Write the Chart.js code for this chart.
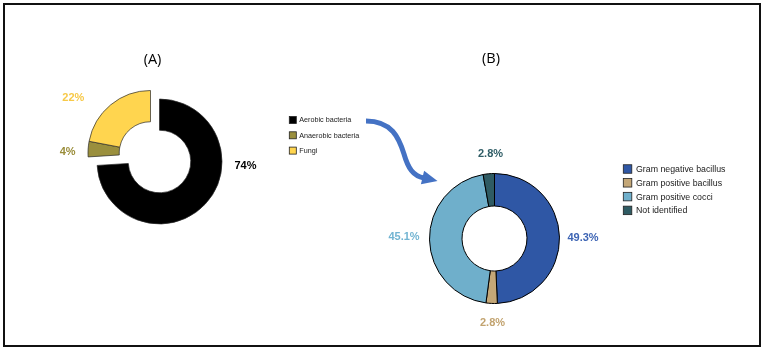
<!DOCTYPE html>
<html>
<head>
<meta charset="utf-8">
<script src="https://cdn.jsdelivr.net/npm/chart.js@4.4.1/dist/chart.umd.min.js"></script>
<style>
	html, body { margin: 0; padding: 0; background: #fff; }
	#wrap { position: relative; width: 766px; height: 353px; overflow: hidden; }
	#wrap canvas { position: absolute; left: 0; top: 0; }
	#frame { position: absolute; left: 3px; top: 3px; width: 758px; height: 344px; box-sizing: border-box; border: 2px solid #111; }
</style>
</head>
<body>
<div id="wrap">
	<canvas id="chartA" width="766" height="353"></canvas>
	<canvas id="chartB" width="766" height="353"></canvas>
	<div id="frame"></div>
</div>
<script>
const groupLabels = ['Aerobic bacteria', 'Anaerobic bacteria', 'Fungi'];
const groupValues = [74, 4, 22];
const groupColors = ['#000000', '#9a8f3d', '#ffd54f'];
const groupTextColors = ['#000000', '#9a8d3a', '#f7c948'];

const bacteriaLabels = ['Gram negative bacillus', 'Gram positive bacillus', 'Gram positive cocci', 'Not identified'];
const bacteriaValues = [49.3, 2.8, 45.1, 2.8];
const bacteriaColors = ['#2f57a5', '#c4a777', '#6fafcb', '#2f5b63'];
const bacteriaTextColors = ['#3d64b4', '#c2a36f', '#72b4d2', '#2f5d66'];

function drawArrow(ctx) {
	ctx.save();
	ctx.strokeStyle = '#4472c4';
	ctx.fillStyle = '#4472c4';
	ctx.lineWidth = 5;
	ctx.beginPath();
	ctx.moveTo(366, 121);
	ctx.bezierCurveTo(392, 121, 399, 138, 404, 154);
	ctx.bezierCurveTo(408, 168, 413, 176, 424, 178);
	ctx.stroke();
	ctx.beginPath();
	ctx.moveTo(437.5, 181);
	ctx.lineTo(424.1, 170.7);
	ctx.lineTo(420.9, 184.3);
	ctx.closePath();
	ctx.fill();
	ctx.restore();
}

// labels, legend and title for each ring, plus the exploded slices of (A)
const pieDecor = {
	id: 'pieDecor',
	afterDatasetUpdate(chart, args, opts) {
		(opts.shifted || []).forEach(i => {
			const el = args.meta.data[i];
			if (el) {
				el.x += opts.shift[0];
				el.y += opts.shift[1];
			}
		});
	},
	afterDraw(chart, args, opts) {
		const ctx = chart.ctx;
		const area = chart.chartArea;
		const cx = (area.left + area.right) / 2;
		const cy = (area.top + area.bottom) / 2;
		const ds = chart.data.datasets[0];
		ctx.save();
		ctx.textAlign = 'center';
		ctx.textBaseline = 'middle';

		ctx.font = '14.5px "Open Sans"';
		ctx.fillStyle = '#000';
		ctx.fillText(opts.title, opts.titlePos[0], opts.titlePos[1]);

		ctx.font = 'bold 11px "Liberation Sans", Arial';
		ds.data.forEach((v, i) => {
			ctx.fillStyle = opts.labelColors[i];
			ctx.fillText(v.toFixed(opts.decimals) + '%', cx + opts.labelOffsets[i][0], cy + opts.labelOffsets[i][1]);
		});

		const lg = opts.legend;
		ctx.font = lg.fontSize + 'px "Liberation Sans", Arial';
		ctx.textAlign = 'left';
		chart.data.labels.forEach((t, i) => {
			const y = lg.y + i * lg.gap;
			ctx.fillStyle = ds.backgroundColor[i];
			ctx.fillRect(lg.x, y - lg.box / 2, lg.box, lg.box);
			ctx.strokeStyle = '#222';
			ctx.lineWidth = 0.8;
			ctx.strokeRect(lg.x, y - lg.box / 2, lg.box, lg.box);
			ctx.fillStyle = '#1a1a1a';
			ctx.fillText(t, lg.x + lg.box + lg.textGap, y + 0.5);
		});

		if (opts.arrow) drawArrow(ctx);
		ctx.restore();
	}
};

new Chart(document.getElementById('chartA'), {
	type: 'doughnut',
	data: {
		labels: groupLabels,
		datasets: [{
			data: groupValues,
			backgroundColor: groupColors,
			borderColor: '#2a2a2a',
			borderWidth: 0.7
		}]
	},
	options: {
		responsive: false,
		animation: false,
		events: [],
		radius: 62.5,
		cutout: '50%',
		layout: { padding: { left: 89.5, top: 91.5, right: 536.5, bottom: 121.5 } },
		plugins: {
			legend: { display: false },
			tooltip: { enabled: false },
			pieDecor: {
				title: '(A)',
				titlePos: [152.5, 60],
				shifted: [1, 2],
				shift: [-9, -8.5],
				decimals: 0,
				labelColors: groupTextColors,
				labelOffsets: [[86, 4.5], [-91.8, -9.8], [-86.2, -63.8]],
				legend: { x: 289.3, y: 120, gap: 15.3, box: 7, fontSize: 7.2, textGap: 3 },
				arrow: true
			}
		}
	},
	plugins: [pieDecor]
});

new Chart(document.getElementById('chartB'), {
	type: 'doughnut',
	data: {
		labels: bacteriaLabels,
		datasets: [{
			data: bacteriaValues,
			backgroundColor: bacteriaColors,
			borderColor: '#000',
			borderWidth: 1
		}]
	},
	options: {
		responsive: false,
		animation: false,
		events: [],
		radius: 65,
		cutout: '50%',
		layout: { padding: { left: 419.5, top: 163.5, right: 196.5, bottom: 39.5 } },
		plugins: {
			legend: { display: false },
			tooltip: { enabled: false },
			pieDecor: {
				title: '(B)',
				titlePos: [491, 59],
				decimals: 1,
				labelColors: bacteriaTextColors,
				labelOffsets: [[88.5, -1], [-2, 84], [-90.5, -2], [-4, -85]],
				legend: { x: 623.3, y: 169, gap: 13.8, box: 8.5, fontSize: 8.8, textGap: 4.2 }
			}
		}
	},
	plugins: [pieDecor]
});
</script>
</body>
</html>
